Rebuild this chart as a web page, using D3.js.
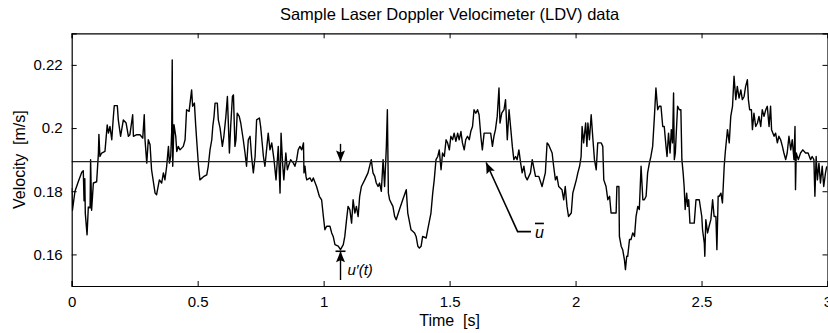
<!DOCTYPE html>
<html>
<head>
<meta charset="utf-8">
<script src="https://cdn.jsdelivr.net/npm/d3@7/dist/d3.min.js"></script>
<style>
body { margin: 0; background: #fff; }
svg { display: block; font-family: "Liberation Sans", Arial, Helvetica, sans-serif; }
</style>
</head>
<body>
<svg id="chart" width="828" height="333"></svg>
<script>
// LDV samples: time [s] and velocity [m/s]
var time = [
	0.000,0.003,0.013,0.026,0.040,0.046,0.049,0.052,0.054,0.061,
	0.066,0.073,0.075,0.079,0.086,0.099,0.106,0.108,0.112,0.119,
	0.132,0.141,0.146,0.152,0.159,0.165,0.169,0.181,0.185,0.194,
	0.205,0.216,0.225,0.231,0.242,0.245,0.258,0.271,0.282,0.288,
	0.291,0.298,0.304,0.311,0.317,0.331,0.337,0.348,0.357,0.364,
	0.370,0.377,0.384,0.388,0.393,0.397,0.399,0.401,0.406,0.413,
	0.417,0.423,0.430,0.443,0.450,0.456,0.466,0.476,0.480,0.487,
	0.492,0.496,0.503,0.509,0.523,0.536,0.542,0.549,0.556,0.560,
	0.565,0.569,0.578,0.582,0.589,0.598,0.604,0.612,0.618,0.626,
	0.631,0.638,0.642,0.648,0.652,0.657,0.665,0.671,0.681,0.688,
	0.694,0.701,0.708,0.714,0.721,0.728,0.734,0.745,0.750,0.761,
	0.767,0.780,0.787,0.794,0.803,0.811,0.820,0.827,0.831,0.837,
	0.842,0.850,0.856,0.860,0.869,0.880,0.886,0.893,0.899,0.906,
	0.913,0.920,0.922,0.926,0.930,
	0.933,0.946,0.953,0.959,0.972,0.983,0.992,0.999,1.005,1.012,
	1.025,1.032,1.038,1.045,1.058,1.067,1.078,1.084,1.091,1.097,
	1.104,1.111,1.117,1.124,1.130,1.137,1.143,1.150,1.163,1.176,
	1.189,1.196,1.203,1.209,1.216,1.222,1.229,1.236,1.242,1.249,
	1.253,1.257,1.262,1.268,1.275,1.282,1.288,1.301,1.314,1.328,
	1.334,1.347,1.361,1.367,1.374,1.380,1.387,1.393,1.407,1.413,
	1.426,1.433,1.439,1.446,1.453,1.459,1.466,1.472,1.479,1.486,
	1.492,1.499,1.505,1.512,1.518,1.525,1.532,1.538,1.545,1.551,
	1.558,1.564,1.571,1.578,1.584,1.591,1.597,1.604,1.611,1.617,
	1.624,1.630,1.637,1.650,1.663,1.670,1.676,1.682,1.689,1.696,
	1.700,1.707,1.716,1.722,1.729,1.736,1.742,1.749,1.755,1.762,
	1.768,1.775,1.782,1.788,1.795,1.801,1.808,1.821,1.828,1.841,
	1.854,1.867,1.880,1.887,1.893,1.907,1.913,1.920,1.926,1.933,
	1.946,1.953,1.959,1.966,1.972,
	1.983,1.989,1.996,2.003,2.009,2.016,2.022,2.026,2.032,2.040,
	2.045,2.049,2.055,2.062,2.069,2.075,2.082,2.088,2.095,2.102,
	2.108,2.112,2.121,2.128,2.135,2.141,2.148,2.161,2.164,2.172,
	2.174,2.181,2.187,2.194,2.198,2.203,2.207,2.214,2.220,2.227,
	2.234,2.240,2.247,2.253,2.260,2.267,2.273,2.280,2.286,2.293,
	2.299,2.306,2.313,2.319,2.326,2.332,2.339,2.346,2.352,2.359,
	2.363,2.369,2.375,2.380,2.385,2.389,2.392,2.396,2.401,2.405,
	2.412,2.418,2.422,2.427,2.431,2.435,2.441,2.445,2.449,2.454,
	2.464,2.471,2.478,2.491,2.501,2.504,2.511,2.513,2.517,2.524,
	2.530,2.537,2.544,2.550,2.557,2.561,2.566,2.570,2.577,2.583,
	2.590,2.594,2.599,2.603,2.610,2.616,2.623,2.629,2.636,2.642,
	2.649,2.656,2.662,2.669,2.675,2.682,2.686,2.691,2.698,2.702,
	2.708,2.715,2.722,2.728,2.735,2.741,2.748,2.755,2.761,2.768,
	2.774,2.778,2.788,2.794,2.801,2.807,2.814,2.821,2.827,2.834,
	2.840,2.847,2.854,2.860,2.867,2.871,2.873,2.876,2.884,2.893,
	2.902,2.913,2.923,2.933,2.939,2.946,2.950,2.955,2.960,2.966,
	2.972,2.979,2.985,2.992,2.997
];
var velocity = [
	0.181,0.174,0.180,0.183,0.186,0.1865,0.177,0.184,0.173,0.1662,
	0.175,0.1747,0.190,0.174,0.1826,0.183,0.192,0.198,0.191,0.1921,
	0.1926,0.201,0.1984,0.2005,0.1963,0.2032,0.2071,0.2071,0.2026,0.1974,
	0.2026,0.2016,0.1974,0.1979,0.2042,0.1974,0.1979,0.1979,0.1968,0.2042,
	0.1963,0.1889,0.1963,0.1947,0.1868,0.1794,0.1789,0.1836,0.1826,0.1858,
	0.1836,0.1879,0.1942,0.1889,0.191,0.199,0.2216,0.1879,0.2011,0.1974,
	0.1926,0.1942,0.1931,0.1942,0.1963,0.2058,0.2053,0.2121,0.2069,0.2079,
	0.2011,0.1963,0.1884,0.1836,0.1846,0.1852,0.1879,0.1931,0.1963,0.2005,
	0.2037,0.2079,0.2079,0.2026,0.2,0.1942,0.1974,0.2037,0.21,0.1921,
	0.2005,0.21,0.2105,0.1942,0.1963,0.2047,0.2037,0.2016,0.1963,0.1921,
	0.1879,0.1963,0.1974,0.191,0.1858,0.191,0.2026,0.2032,0.2005,0.191,
	0.1879,0.1984,0.1931,0.1953,0.19,0.1836,0.1942,0.1794,0.1984,0.1889,
	0.1836,0.1921,0.1868,0.1879,0.19,0.1889,0.1879,0.19,0.1931,0.1942,
	0.1931,0.1953,0.1858,0.1879,0.1847,
	0.1836,0.1842,0.1831,0.1842,0.1815,0.1784,0.1773,0.172,0.1678,0.1689,
	0.1689,0.1668,0.1657,0.1631,0.1626,0.1615,0.1631,0.1657,0.171,0.1752,
	0.1742,0.1699,0.1773,0.1731,0.1752,0.172,0.1784,0.1815,0.1836,0.1858,
	0.19,0.1858,0.1847,0.1826,0.1815,0.1826,0.18,0.19,0.1815,0.1942,
	0.2058,0.1794,0.1773,0.1763,0.1752,0.172,0.171,0.1742,0.1773,0.1805,
	0.1731,0.1678,0.1668,0.1657,0.1626,0.162,0.1626,0.1657,0.1652,0.1678,
	0.1731,0.1794,0.1836,0.19,0.191,0.1931,0.1868,0.1921,0.191,0.1963,
	0.1953,0.1931,0.1974,0.1963,0.1984,0.1958,0.1984,0.1963,0.1989,0.1953,
	0.1931,0.1963,0.1974,0.1963,0.1989,0.2005,0.2058,0.2047,0.2058,0.2042,
	0.1974,0.1931,0.1984,0.1984,0.1984,0.1942,0.1974,0.1995,0.2037,0.2127,
	0.2016,0.2047,0.2058,0.209,0.1963,0.2058,0.2005,0.1942,0.19,0.191,
	0.19,0.1931,0.1889,0.1858,0.1879,0.1847,0.1836,0.1858,0.19,0.1847,
	0.1847,0.1815,0.1858,0.1953,0.1947,0.1921,0.1879,0.1836,0.1847,0.1815,
	0.1805,0.1773,0.1815,0.1752,0.172,
	0.1731,0.1794,0.1815,0.1836,0.1858,0.1879,0.191,0.2005,0.1953,0.2016,
	0.1942,0.2016,0.1963,0.2042,0.1963,0.19,0.1868,0.1953,0.1953,0.1953,
	0.1942,0.1836,0.1815,0.1773,0.1784,0.1731,0.1731,0.1731,0.1815,0.1815,
	0.1657,0.1626,0.1615,0.1583,0.1552,0.1594,0.1594,0.1647,0.1647,0.1668,
	0.1657,0.172,0.1752,0.1742,0.1879,0.1773,0.1773,0.1784,0.1858,0.1889,
	0.191,0.1942,0.2037,0.2127,0.2058,0.2069,0.2069,0.2005,0.2005,0.1942,
	0.191,0.1984,0.1921,0.1995,0.1953,0.2111,0.19,0.1921,0.2005,0.2069,
	0.2058,0.2058,0.19,0.1858,0.1815,0.1742,0.1794,0.1752,0.1773,0.1699,
	0.1699,0.1699,0.1773,0.1773,0.172,0.1678,0.1636,0.1594,0.171,0.1668,
	0.1689,0.171,0.1773,0.172,0.172,0.1615,0.1784,0.1784,0.1794,0.1763,
	0.1879,0.1921,0.1963,0.1995,0.1953,0.2037,0.2069,0.2164,0.209,0.2132,
	0.2095,0.2121,0.209,0.21,0.2132,0.2153,0.209,0.2058,0.2058,0.1995,
	0.2047,0.2005,0.2016,0.2037,0.2005,0.2058,0.2037,0.2058,0.2069,0.2005,
	0.2069,0.1995,0.1974,0.1984,0.1953,0.1974,0.1963,0.1942,0.1921,0.19,
	0.1921,0.1974,0.1931,0.1963,0.19,0.2005,0.1805,0.1921,0.19,0.1921,
	0.1931,0.1921,0.1921,0.19,0.191,0.19,0.1784,0.191,0.1836,0.1889,
	0.1826,0.1879,0.1815,0.1858,0.1879
];
var meanVelocity = 0.1894;

var xTicks = [0, 0.5, 1, 1.5, 2, 2.5, 3];
var xTickLabels = ["0", "0.5", "1", "1.5", "2", "2.5", "3"];
var yTicks = [0.16, 0.18, 0.2, 0.22];
var yTickLabels = ["0.16", "0.18", "0.2", "0.22"];

var titleText = "Sample Laser Doppler Velocimeter (LDV) data";
var xLabelText = "Time  [s]";
var yLabelText = "Velocity  [m/s]";

// annotations (data coords)
var flucT = 1.067;          // where u'(t) is pointed out
var flucTop = 0.195, flucLow = 0.1519, flucTip = 0.161;
var ubarTip = [1.645, 0.1891], ubarElbow = [1.770, 0.1672], ubarEnd = [1.823, 0.1672];

// plot box (window.top is read-only, so no bare "top")
var boxL = 71.7, boxR = 827.5, boxT = 33.3, boxB = 286;

var svg = d3.select("#chart");
var x = d3.scaleLinear().domain([0, 3]).range([boxL, boxR]);
var y = d3.scaleLinear().domain([0.15, 0.23]).range([boxB, boxT]);

var points = time.map(function(t, i) { return [t, velocity[i]]; })
	.filter(function(d) { return d[1] !== undefined; });

svg.append("defs").append("marker")
	.attr("id", "head")
	.attr("markerUnits", "userSpaceOnUse")
	.attr("viewBox", "-12 -5 13 10")
	.attr("markerWidth", 13).attr("markerHeight", 10)
	.attr("refX", 0).attr("refY", 0)
	.attr("orient", "auto")
	.append("path")
	.attr("d", "M0,0 L-11,-4.5 L-9,0 L-11,4.5 Z")
	.attr("fill", "#000");

svg.append("clipPath").attr("id", "plotclip").append("rect")
	.attr("x", boxL).attr("y", boxT).attr("width", boxR - boxL).attr("height", boxB - boxT);

svg.append("path")
	.datum(points)
	.attr("clip-path", "url(#plotclip)")
	.attr("fill", "none")
	.attr("stroke", "#000")
	.attr("stroke-width", 1.4)
	.attr("stroke-linejoin", "round")
	.attr("d", d3.line().x(function(d) { return x(d[0]); }).y(function(d) { return y(d[1]); }));

svg.append("line")
	.attr("x1", x(0)).attr("x2", x(3))
	.attr("y1", y(meanVelocity)).attr("y2", y(meanVelocity))
	.attr("stroke", "#222").attr("stroke-width", 1.3);

// axes, MATLAB style: inward ticks, box all round
function fmt(list, labels) { return function(d) { return labels[list.indexOf(d)]; }; }

svg.append("g").attr("transform", "translate(0," + boxB + ")")
	.call(d3.axisBottom(x).tickValues(xTicks).tickFormat(fmt(xTicks, xTickLabels)).tickSize(-5).tickPadding(10));
svg.append("g").attr("transform", "translate(0," + boxT + ")")
	.call(d3.axisTop(x).tickValues(xTicks).tickFormat("").tickSize(-5));
svg.append("g").attr("transform", "translate(" + boxL + ",0)")
	.call(d3.axisLeft(y).tickValues(yTicks).tickFormat(fmt(yTicks, yTickLabels)).tickSize(-5).tickPadding(9));
svg.append("g").attr("transform", "translate(" + boxR + ",0)")
	.call(d3.axisRight(y).tickValues(yTicks).tickFormat("").tickSize(-5));

svg.selectAll(".domain").attr("stroke", "#000").attr("stroke-width", 1.2);
svg.selectAll(".tick line").attr("stroke", "#000");
svg.selectAll(".tick text").attr("font-size", 15).attr("font-family", null).attr("fill", "#000");

svg.append("text")
	.attr("x", (boxL + boxR) / 2).attr("y", 20)
	.attr("text-anchor", "middle").attr("font-size", 16.5)
	.style("white-space", "pre")
	.text(titleText);

svg.append("text")
	.attr("x", (boxL + boxR) / 2).attr("y", 326)
	.attr("text-anchor", "middle").attr("font-size", 16)
	.style("white-space", "pre")
	.text(xLabelText);

svg.append("text")
	.attr("transform", "translate(25," + (boxT + boxB) / 2 + ") rotate(-90)")
	.attr("text-anchor", "middle").attr("font-size", 16)
	.style("white-space", "pre")
	.text(yLabelText);

// u'(t) arrows
svg.append("line")
	.attr("x1", x(flucT)).attr("x2", x(flucT))
	.attr("y1", y(flucTop)).attr("y2", y(meanVelocity))
	.attr("stroke", "#000").attr("stroke-width", 1.4)
	.attr("marker-end", "url(#head)");
svg.append("line")
	.attr("x1", x(flucT)).attr("x2", x(flucT))
	.attr("y1", y(flucLow)).attr("y2", y(flucTip))
	.attr("stroke", "#000").attr("stroke-width", 1.4)
	.attr("marker-end", "url(#head)");
svg.append("line")
	.attr("x1", x(flucT) - 5).attr("x2", x(flucT) + 5)
	.attr("y1", y(flucTip)).attr("y2", y(flucTip))
	.attr("stroke", "#000").attr("stroke-width", 1.6);
svg.append("text")
	.attr("x", x(flucT) + 7).attr("y", y(flucLow) - 5)
	.attr("font-size", 15).attr("font-style", "italic")
	.text("u\u2032(t)");

// u-bar arrow
svg.append("path")
	.attr("d", d3.line()([[x(ubarEnd[0]), y(ubarEnd[1])], [x(ubarElbow[0]), y(ubarElbow[1])], [x(ubarTip[0]), y(ubarTip[1])]]))
	.attr("fill", "none").attr("stroke", "#000").attr("stroke-width", 1.6)
	.attr("marker-end", "url(#head)");
svg.append("text")
	.attr("x", x(ubarEnd[0]) + 4).attr("y", y(ubarEnd[1]) + 6)
	.attr("font-size", 16).attr("font-style", "italic")
	.style("text-decoration", "overline")
	.text("u");
</script>
</body>
</html>
